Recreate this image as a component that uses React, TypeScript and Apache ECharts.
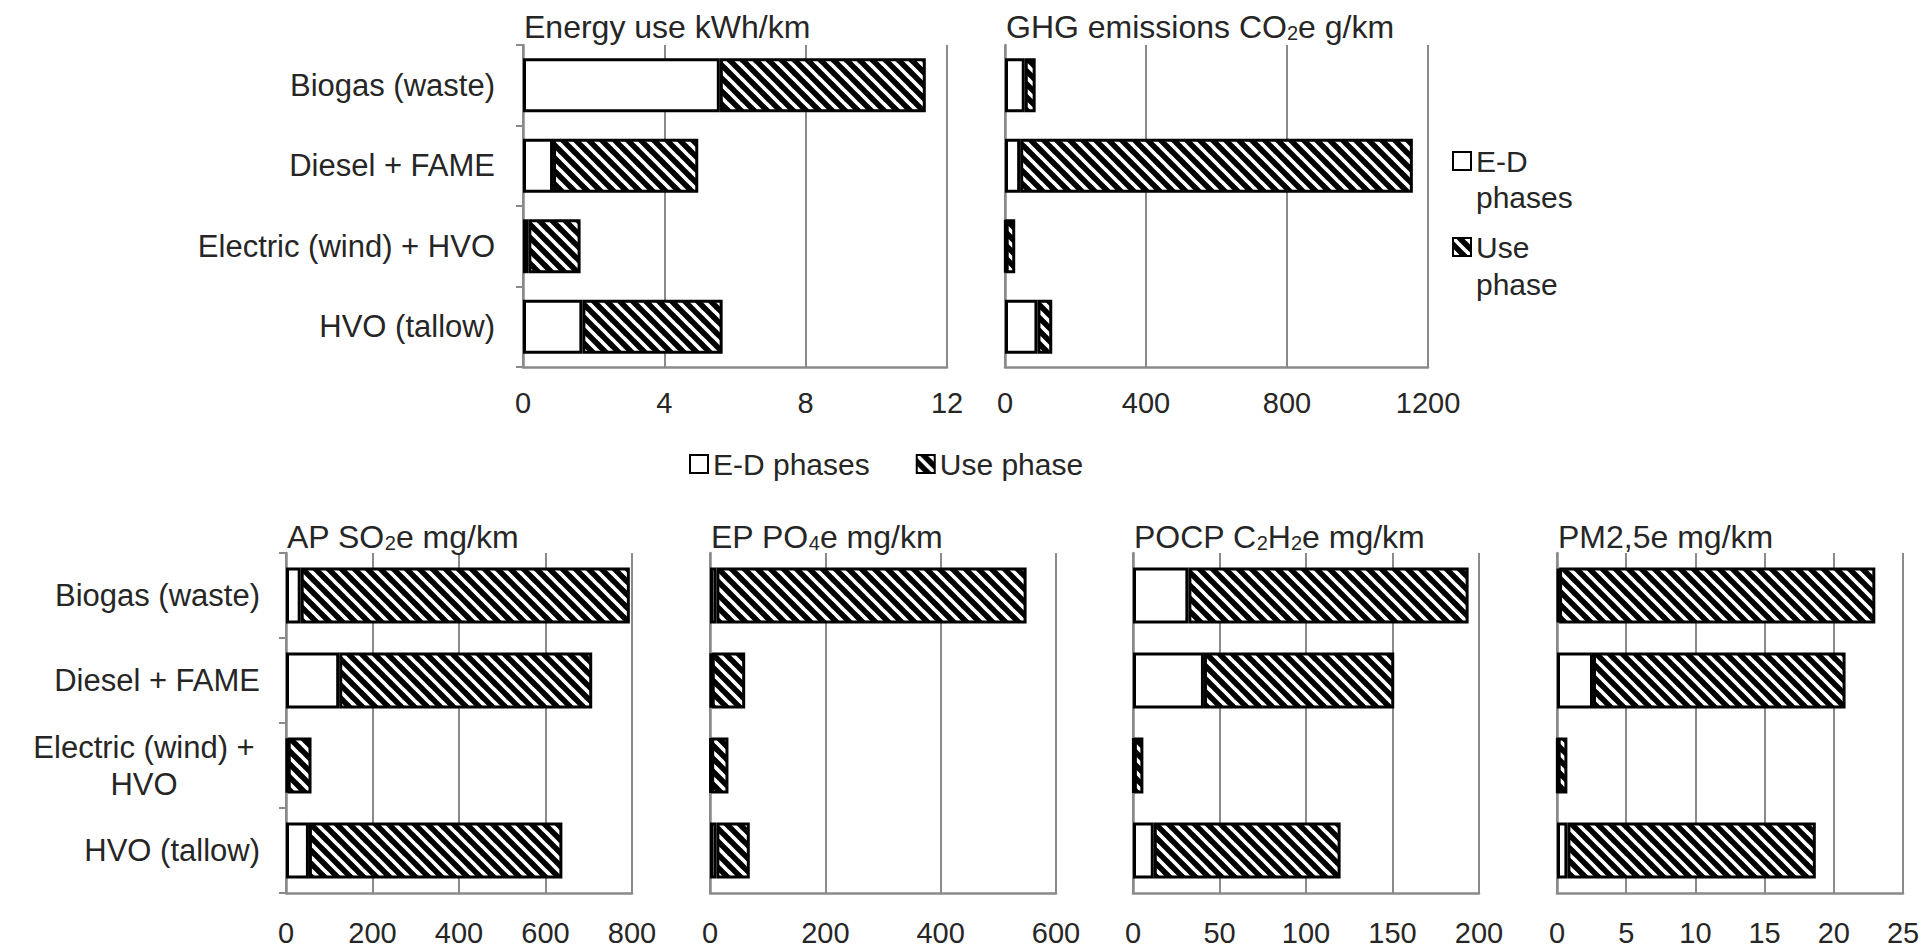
import React, { useEffect, useRef } from 'react';
import * as echarts from 'echarts';

// ---- data ----
const categories = ['Biogas (waste)', 'Diesel + FAME', 'Electric (wind) + HVO', 'HVO (tallow)'];
const seriesNames = ['E-D phases', 'Use phase'];

const energyED = [5.57, 0.85, 0.15, 1.68];
const energyUse = [5.83, 4.11, 1.48, 3.97];
const energyTicks = [0, 4, 8, 12];

const ghgED = [56, 43, 2, 92];
const ghgUse = [31, 1114, 27, 42];
const ghgTicks = [0, 400, 800, 1200];

const apED = [34, 123, 4, 53];
const apUse = [761, 585, 55, 586];
const apTicks = [0, 200, 400, 600, 800];

const epED = [11, 3, 2, 11];
const epUse = [538, 58, 30, 58];
const epTicks = [0, 200, 400, 600];

const pocpED = [32, 41, 0.5, 12];
const pocpUse = [162, 110, 5.5, 108];
const pocpTicks = [0, 50, 100, 150, 200];

const pmED = [0.15, 2.6, 0.05, 0.75];
const pmUse = [22.85, 18.25, 0.7, 17.95];
const pmTicks = [0, 5, 10, 15, 20, 25];

const titles = [
  '{n|Energy use kWh/km}',
  '{n|GHG emissions CO}{s|2}{n|e g/km}',
  '{n|AP SO}{s|2}{n|e mg/km}',
  '{n|EP PO}{s|4}{n|e mg/km}',
  '{n|POCP C}{s|2}{n|H}{s|2}{n|e mg/km}',
  '{n|PM2,5e mg/km}',
];

const FONT = '"Liberation Sans", Arial, sans-serif';
const TXT = '#262626';
const GRAY = '#8a8a8a';
const TILE = 13;

function makeHatch(): HTMLCanvasElement {
  const c = document.createElement('canvas');
  c.width = TILE;
  c.height = TILE;
  const ctx = c.getContext('2d')!;
  ctx.fillStyle = '#000';
  ctx.fillRect(0, 0, TILE, TILE);
  ctx.strokeStyle = '#fff';
  ctx.lineWidth = 3.7;
  for (const off of [-TILE, 0, TILE]) {
    ctx.beginPath();
    ctx.moveTo(off - 3, -3);
    ctx.lineTo(off + TILE + 3, TILE + 3);
    ctx.stroke();
  }
  return c;
}

export default function App() {
  const ref = useRef<HTMLDivElement>(null);

  useEffect(() => {
    if (!ref.current) return;
    const chart = echarts.init(ref.current, undefined, { renderer: 'svg' });
    const hatch = { image: makeHatch(), repeat: 'repeat', imageWidth: TILE, imageHeight: TILE };

    const panels = [
      { ed: energyED, use: energyUse, ticks: energyTicks, grid: { left: 523, top: 45, width: 424, height: 322 }, labels: true, top: true },
      { ed: ghgED, use: ghgUse, ticks: ghgTicks, grid: { left: 1005, top: 45, width: 423, height: 322 }, labels: false, top: true },
      { ed: apED, use: apUse, ticks: apTicks, grid: { left: 286, top: 553, width: 346, height: 340 }, labels: true, top: false },
      { ed: epED, use: epUse, ticks: epTicks, grid: { left: 710, top: 553, width: 346, height: 340 }, labels: false, top: false },
      { ed: pocpED, use: pocpUse, ticks: pocpTicks, grid: { left: 1133, top: 553, width: 346, height: 340 }, labels: false, top: false },
      { ed: pmED, use: pmUse, ticks: pmTicks, grid: { left: 1557, top: 553, width: 346, height: 340 }, labels: false, top: false },
    ];

    const titleRich = {
      n: { fontSize: 32, lineHeight: 32, fontWeight: 'normal', color: TXT, fontFamily: FONT },
      s: { fontSize: 20, lineHeight: 14, fontWeight: 'normal', verticalAlign: 'bottom', color: TXT, fontFamily: FONT },
    };

    const option: any = {
      animation: false,
      backgroundColor: '#fff',
      textStyle: { fontFamily: FONT, color: TXT },
      title: panels.map((p, i) => ({
        text: titles[i],
        left: p.grid.left + 1,
        top: p.top ? 11 : 521,
        padding: 0,
        textStyle: { fontWeight: 'normal', rich: titleRich },
      })),
      legend: [
        {
          data: seriesNames,
          left: 689,
          top: 449,
          orient: 'horizontal',
          padding: 0,
          icon: 'rect',
          itemWidth: 18,
          itemHeight: 18,
          itemGap: 46,
          selectedMode: false,
          textStyle: { fontSize: 30, lineHeight: 30, color: TXT, fontFamily: FONT },
        },
        {
          data: seriesNames,
          left: 1452,
          top: 146,
          orient: 'vertical',
          padding: 0,
          icon: 'rect',
          itemWidth: 18,
          itemHeight: 18,
          itemGap: 56,
          selectedMode: false,
          formatter: (name: string) => name.split(' ')[0],
          textStyle: { fontSize: 30, lineHeight: 30, color: TXT, fontFamily: FONT },
        },
      ],
      graphic: [
        { type: 'text', left: 1476, top: 182, style: { text: 'phases', fontSize: 30, fontFamily: FONT, fill: TXT } },
        { type: 'text', left: 1476, top: 269, style: { text: 'phase', fontSize: 30, fontFamily: FONT, fill: TXT } },
      ],
      grid: panels.map((p) => ({ ...p.grid })),
      xAxis: panels.map((p, i) => ({
        type: 'value',
        gridIndex: i,
        min: p.ticks[0],
        max: p.ticks[p.ticks.length - 1],
        interval: p.ticks[1] - p.ticks[0],
        axisLine: { show: true, lineStyle: { color: GRAY, width: 2.5 } },
        axisTick: { show: false },
        splitLine: { show: true, lineStyle: { color: GRAY, width: 2 } },
        axisLabel: {
          fontSize: 29,
          lineHeight: 30,
          color: TXT,
          fontFamily: FONT,
          margin: p.top ? 21 : 25,
          showMinLabel: true,
          showMaxLabel: true,
          formatter: (v: number) => String(v),
        },
      })),
      yAxis: panels.map((p, i) => ({
        type: 'category',
        gridIndex: i,
        inverse: true,
        data: categories,
        axisLine: { show: true, lineStyle: { color: GRAY, width: 2.5 } },
        axisTick: { show: p.labels, length: 7, lineStyle: { color: GRAY, width: 2 } },
        axisLabel: {
          show: p.labels,
          fontSize: 31,
          color: TXT,
          fontFamily: FONT,
          margin: p.top ? 28 : 26,
          formatter: p.top
            ? undefined
            : (v: string) => (v === 'Electric (wind) + HVO' ? '{c|Electric (wind) +}\n{c|HVO}' : v),
          rich: {
            c: { fontSize: 31, lineHeight: 37, width: 232, align: 'center', color: TXT, fontFamily: FONT },
          },
        },
      })),
      series: panels.flatMap((p, i) => [
        {
          name: seriesNames[0],
          type: 'bar',
          xAxisIndex: i,
          yAxisIndex: i,
          stack: 'p' + i,
          barCategoryGap: p.top ? '33%' : '34%',
          data: p.ed,
          silent: true,
          itemStyle: { color: '#fff', borderColor: '#000', borderWidth: 3 },
          emphasis: { disabled: true },
        },
        {
          name: seriesNames[1],
          type: 'bar',
          xAxisIndex: i,
          yAxisIndex: i,
          stack: 'p' + i,
          barCategoryGap: p.top ? '33%' : '34%',
          data: p.use,
          silent: true,
          itemStyle: { color: hatch, borderColor: '#000', borderWidth: 3 },
          emphasis: { disabled: true },
        },
      ]),
    };

    chart.setOption(option);
    return () => chart.dispose();
  }, []);

  return (
    <div
      ref={ref}
      style={{ position: 'fixed', left: 0, top: 0, width: '1926px', height: '951px', background: '#fff' }}
    />
  );
}
